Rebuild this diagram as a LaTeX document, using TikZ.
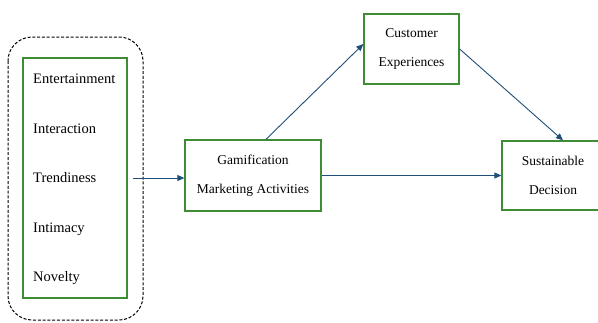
\documentclass[tikz,border=0pt]{standalone}
\usepackage{fontspec}
\setmainfont{Liberation Serif}
\usetikzlibrary{arrows.meta}
\definecolor{boxgreen}{RGB}{62,140,52}
\definecolor{arrowblue}{RGB}{31,78,121}

\begin{document}
\begin{tikzpicture}[x=1pt, y=-1pt]
\tikzset{edge/.style = {-{Triangle[length=7pt, width=6pt]}, arrowblue, line width=0.9pt}}
\tikzset{block/.style = {draw=boxgreen, line width=1.3pt, align=center, inner sep=0pt,
  font=\fontsize{13.5}{29}\selectfont}}
\tikzset{item/.style = {anchor=west, inner sep=0pt, font=\fontsize{14.5}{16}\selectfont}}
\useasboundingbox (0,0) rectangle (598,322);
% dimensions of the gamification construct
\draw[dash pattern=on 3pt off 1.8pt, line width=1pt, rounded corners=24pt] (8,37) rectangle (143,320);
\node[block, minimum width=104pt, minimum height=240pt](dims) at (75,178) {};
\node[item](ent) at (33,79) {Entertainment};
\node[item](inter) at (33,129) {Interaction};
\node[item](trend) at (33,178) {Trendiness};
\node[item](intim) at (33,229) {Intimacy};
\node[item](nov) at (33,278) {Novelty};
% model
\node[block, minimum width=136pt, minimum height=71pt](gma) at (253,175.5) {Gamification\\Marketing Activities};
\node[block, minimum width=95pt, minimum height=70pt](cx) at (411.5,49) {Customer\\Experiences};
\node[block, minimum width=102pt, minimum height=69pt](sd) at (553,175.5) {Sustainable\\Decision};
\draw[edge, shorten <=5pt] (dims.east) -- (dims.east -| gma.west);
\draw[edge] ([xshift=13pt]gma.north) -- ([yshift=5pt]cx.west);
\draw[edge] (cx.east) -- ([xshift=10pt]sd.north);
\draw[edge] (gma.east) -- (sd.west);
\end{tikzpicture}
\end{document}
